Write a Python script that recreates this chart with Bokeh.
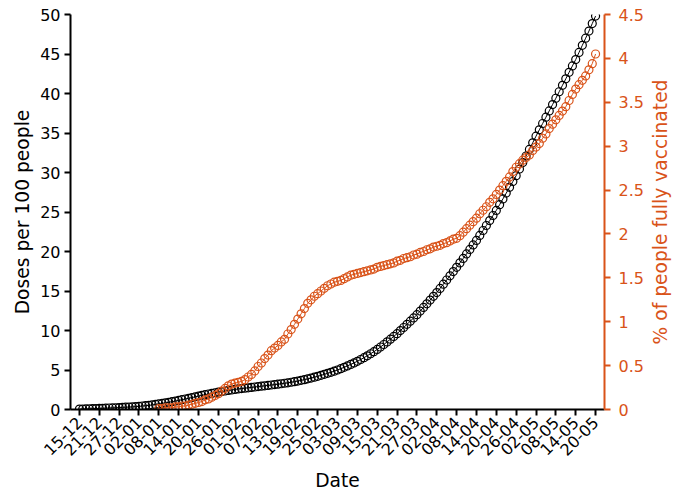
import math
import pandas as pd
from bokeh.plotting import figure
from bokeh.layouts import row
from bokeh.models import (Range1d, LinearAxis, FixedTicker, DatetimeTickFormatter,
                          NumeralTickFormatter, ColumnDataSource, Label)
from bokeh.embed import file_html
from bokeh.resources import INLINE

# ---------------- data ----------------
start_date = "2020-12-15"
doses_per_100 = [
    0.05, 0.06, 0.07, 0.08, 0.10, 0.12, 0.14,
    0.15, 0.17, 0.19, 0.20, 0.22, 0.25,
    0.27, 0.29, 0.31, 0.33, 0.36, 0.40,
    0.44, 0.48, 0.53, 0.58, 0.64, 0.70,
    0.77, 0.84, 0.91, 0.99, 1.07, 1.15,
    1.24, 1.33, 1.42, 1.51, 1.60, 1.70,
    1.79, 1.88, 1.96, 2.04, 2.12, 2.20,
    2.27, 2.34, 2.41, 2.47, 2.54, 2.60,
    2.65, 2.70, 2.75, 2.80, 2.85, 2.90,
    2.95, 3.00, 3.05, 3.10, 3.15, 3.20,
    3.26, 3.32, 3.38, 3.45, 3.52, 3.60,
    3.69, 3.78, 3.88, 3.98, 4.09, 4.20,
    4.32, 4.45, 4.58, 4.71, 4.85, 5.00,
    5.17, 5.34, 5.52, 5.71, 5.90, 6.10,
    6.33, 6.56, 6.80, 7.06, 7.32, 7.60,
    7.91, 8.23, 8.56, 8.90, 9.25, 9.60,
    9.99, 10.38, 10.78, 11.18, 11.59, 12.00,
    12.46, 12.92, 13.38, 13.85, 14.32, 14.80,
    15.33, 15.86, 16.39, 16.92, 17.46, 18.00,
    18.56, 19.12, 19.69, 20.26, 20.83, 21.40,
    22.03, 22.66, 23.29, 23.92, 24.56, 25.20,
    25.93, 26.66, 27.39, 28.12, 28.86, 29.60,
    30.43, 31.26, 32.09, 32.92, 33.76, 34.60,
    35.40, 36.20, 37.00, 37.80, 38.60, 39.40,
    40.22, 41.04, 41.86, 42.68, 43.49, 44.30,
    45.20, 46.10, 47.00, 47.90, 48.85, 49.80,
]

fully_start_date = "2021-01-08"
pct_fully_vaccinated = [
    0.01, 0.01, 0.02, 0.02, 0.02, 0.03,
    0.03, 0.04, 0.04, 0.05, 0.06, 0.07,
    0.08, 0.09, 0.11, 0.12, 0.14, 0.16,
    0.18, 0.21, 0.24, 0.27, 0.29, 0.30,
    0.31, 0.32, 0.34, 0.37, 0.40, 0.44,
    0.49, 0.53, 0.58, 0.62, 0.67, 0.70,
    0.73, 0.77, 0.80, 0.86, 0.91, 0.97,
    1.03, 1.09, 1.15, 1.21, 1.25, 1.29,
    1.32, 1.35, 1.38, 1.41, 1.43, 1.45,
    1.46, 1.47, 1.49, 1.51, 1.53, 1.54,
    1.55, 1.56, 1.57, 1.58, 1.59, 1.60,
    1.62, 1.63, 1.64, 1.65, 1.66, 1.67,
    1.69, 1.70, 1.72, 1.73, 1.74, 1.76,
    1.77, 1.79, 1.80, 1.82, 1.83, 1.85,
    1.86, 1.87, 1.89, 1.90, 1.92, 1.94,
    1.95, 1.98, 2.02, 2.06, 2.10, 2.14,
    2.18, 2.23, 2.27, 2.31, 2.36, 2.40,
    2.45, 2.50, 2.55, 2.60, 2.65, 2.71,
    2.76, 2.80, 2.84, 2.87, 2.90, 2.95,
    2.99, 3.03, 3.09, 3.14, 3.20, 3.25,
    3.30, 3.35, 3.40, 3.45, 3.52, 3.59,
    3.65, 3.70, 3.75, 3.80, 3.87, 3.94,
    4.05,
]

tick_labels = ["15-12", "21-12", "27-12", "02-01", "08-01", "14-01", "20-01",
               "26-01", "01-02", "07-02", "13-02", "19-02", "25-02", "03-03",
               "09-03", "15-03", "21-03", "27-03", "02-04", "08-04", "14-04",
               "20-04", "26-04", "02-05", "08-05", "14-05", "20-05"]
left_ticks = [0, 5, 10, 15, 20, 25, 30, 35, 40, 45, 50]
right_ticks = [0, 0.5, 1, 1.5, 2, 2.5, 3, 3.5, 4, 4.5]

ORANGE = "#D95319"
FONT = "DejaVu Sans"
TICK_FS = "16px"
LABEL_FS = "18.7px"

# ---------------- build ----------------
dates_doses = pd.date_range(start_date, periods=len(doses_per_100), freq="D")
dates_fully = pd.date_range(fully_start_date, periods=len(pct_fully_vaccinated), freq="D")

def label_to_date(lbl):
    d, m = lbl.split("-")
    year = 2020 if m == "12" else 2021
    return pd.Timestamp(year=year, month=int(m), day=int(d))

tick_dates = [label_to_date(l) for l in tick_labels]
tick_ms = [t.value / 1e6 for t in tick_dates]

day_ms = 86400000.0
x_start = tick_ms[0] - 2.7 * day_ms
x_end = tick_ms[-1] + 2.7 * day_ms

H = 493
SIDE_W = 36                # strip holding the right-hand axis title
W = 684 - SIDE_W
L, R, T, B = 70, 44, 14, 84

p = figure(width=W, height=H, output_backend="svg", toolbar_location=None,
           x_axis_type="datetime",
           x_range=Range1d(x_start, x_end), y_range=Range1d(0, 50),
           min_border_left=L, min_border_right=R, min_border_top=T,
           min_border_bottom=B)
p.outline_line_color = None
p.grid.visible = False
p.background_fill_color = "white"
p.border_fill_color = "white"

p.extra_y_ranges = {"pct": Range1d(0, 4.5)}

src_d = ColumnDataSource(dict(x=dates_doses, y=doses_per_100))
src_f = ColumnDataSource(dict(x=dates_fully, y=pct_fully_vaccinated))

p.line("x", "y", source=src_d, color="black", line_width=1)
p.scatter("x", "y", source=src_d, marker="circle", size=8, fill_color=None,
          line_color="black", line_width=1.2)
p.line("x", "y", source=src_f, color=ORANGE, line_width=1, y_range_name="pct")
p.scatter("x", "y", source=src_f, marker="circle", size=8, fill_color=None,
          line_color=ORANGE, line_width=1.2, y_range_name="pct")

# x axis
xa = p.xaxis[0]
xa.ticker = FixedTicker(ticks=tick_ms)
fmt = "%d-%m"
xa.formatter = DatetimeTickFormatter(microseconds=fmt, milliseconds=fmt, seconds=fmt,
                                     minsec=fmt, minutes=fmt, hourmin=fmt, hours=fmt,
                                     days=fmt, months=fmt, years=fmt)
xa.major_label_orientation = 0.785398
xa.axis_label = "Date"

# left y axis
ya = p.yaxis[0]
ya.ticker = FixedTicker(ticks=left_ticks)
ya.axis_label = "Doses per 100 people"

# right y axis (its title is drawn in the side strip so it reads bottom-to-top)
ra = LinearAxis(y_range_name="pct",
                ticker=FixedTicker(ticks=right_ticks),
                formatter=NumeralTickFormatter(format="0.[0]"))
p.add_layout(ra, "right")

for ax, col in ((xa, "black"), (ya, "black"), (ra, ORANGE)):
    ax.axis_line_color = col
    ax.axis_line_width = 2
    ax.major_tick_line_color = col
    ax.major_tick_line_width = 2
    ax.major_tick_in = 0
    ax.major_tick_out = 6
    ax.minor_tick_line_color = None
    ax.major_label_text_color = col
    ax.major_label_text_font = FONT
    ax.major_label_text_font_size = TICK_FS
    ax.axis_label_text_color = col
    ax.axis_label_text_font = FONT
    ax.axis_label_text_font_size = LABEL_FS
    ax.axis_label_text_font_style = "normal"
    ax.major_label_standoff = 4

ya.axis_label_standoff = 4
xa.axis_label_standoff = 6
ra.major_label_standoff = 8

# side strip with the right axis title (its frame lines up with the main frame)
side = figure(width=SIDE_W, height=H, output_backend="svg", toolbar_location=None,
              x_range=Range1d(0, 1), y_range=Range1d(0, 1), min_border=0)
side.axis.visible = False
side.grid.visible = False
side.outline_line_color = None
side.background_fill_color = "white"
side.border_fill_color = "white"
frame_h = H - T - B
side.add_layout(Label(x=660 - W, y=frame_h / 2, x_units="screen", y_units="screen",
                      text="% of people fully vaccinated", angle=math.pi / 2,
                      text_align="center", text_baseline="middle",
                      text_font=FONT, text_font_size=LABEL_FS, text_color=ORANGE))

layout = row(p, side, spacing=0)
open("out.html", "w").write(file_html(layout, INLINE))
